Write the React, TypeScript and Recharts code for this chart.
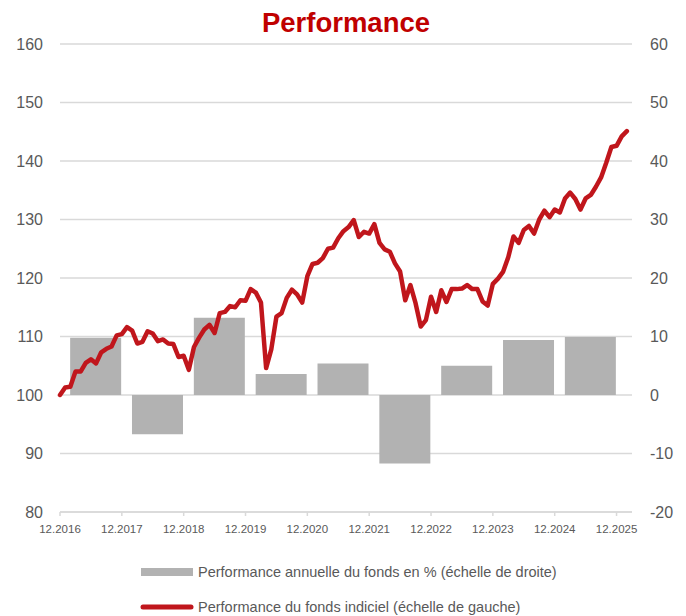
import React from 'react';
import { ComposedChart, Bar, Line, XAxis, YAxis, CartesianGrid } from 'recharts';

// Monthly index level of the index fund, from 12.2016 onward (left scale)
const indexValues = [
  100, 101.3, 101.4, 104, 104, 105.5, 106.1, 105.4, 107.3, 107.9, 108.3, 110.2,
  110.4, 111.6, 111, 108.8, 109.1, 110.9, 110.5, 109.2, 109.5, 108.8, 108.7, 106.5,
  106.7, 104.3, 108.2, 109.8, 111.2, 112, 110.6, 114, 114.2, 115.2, 115, 116.2,
  116.1, 118.1, 117.5, 115.8, 104.6, 107.8, 113.4, 114, 116.6, 118, 117.2, 115.8,
  120.3, 122.4, 122.6, 123.4, 125, 125.2, 126.8, 128, 128.7, 129.9, 127, 127.9,
  127.6, 129.2, 126, 124.9, 124.5, 122.5, 121.1, 116.2, 118.8, 115.7, 111.7, 112.8,
  116.8, 114.2, 117.9, 115.9, 118.1, 118.1, 118.2, 118.8, 118.1, 118.1, 116, 115.3,
  119, 119.9, 121.1, 123.6, 127.1, 126, 128.2, 128.9, 127.6, 130, 131.5, 130.4,
  131.7, 131.2, 133.6, 134.6, 133.5, 131.7, 133.6, 134.2, 135.6, 137.2, 139.7, 142.4,
  142.6, 144.2, 145.1,
];

// Annual fund performance in % (right scale)
const barYears = ['2017', '2018', '2019', '2020', '2021', '2022', '2023', '2024', '2025'];
const annualPerf = [9.8, -6.7, 13.2, 3.6, 5.4, -11.7, 5.0, 9.4, 9.9];

const xTickLabels = ['12.2016', '12.2017', '12.2018', '12.2019', '12.2020', '12.2021', '12.2022', '12.2023', '12.2024', '12.2025'];
const leftTicks = [80, 90, 100, 110, 120, 130, 140, 150, 160];
const rightTicks = [-20, -10, 0, 10, 20, 30, 40, 50, 60];

const title = 'Performance';
const legendBar = 'Performance annuelle du fonds en % (échelle de droite)';
const legendLine = 'Performance du fonds indiciel (échelle de gauche)';

const lineData = indexValues.map((v, m) => ({ m, idx: v }));
const barData = barYears.map((year, i) => ({ year, m: 12 * (i + 1) - 5, perf: annualPerf[i] }));

const xTicks = xTickLabels.map((_, i) => i * 12);

const FONT = '"Liberation Sans", Arial, sans-serif';
const GRID = '#d9d9d9';
const TXT = '#595959';
const RED = '#c0161c';
const GREY = '#b2b2b2';

export default function App() {
  return (
    <div style={{ position: 'absolute', left: 0, top: 0, width: 686, height: 616, background: '#fff', fontFamily: FONT }}>
      <ComposedChart width={686} height={616} data={barData} margin={{ top: 44, right: 0, bottom: 74, left: 0 }}>
        <CartesianGrid xAxisId="line" yAxisId="left" vertical={false} stroke={GRID} strokeWidth={1.5} />
        <XAxis
          xAxisId="line"
          dataKey="m"
          type="number"
          domain={[0, 111]}
          ticks={xTicks}
          interval={0}
          tickFormatter={(v: number) => xTickLabels[v / 12]}
          height={30}
          axisLine={{ stroke: GRID, strokeWidth: 1.5 }}
          tickLine={{ stroke: GRID, strokeWidth: 1.5 }}
          tickSize={4}
          tickMargin={9}
          tick={{ fill: TXT, fontSize: 11.5, fontFamily: FONT }}
        />
        <XAxis
          xAxisId="bar"
          dataKey="m"
          type="number"
          domain={[0, 111]}
          height={0}
          hide
        />
        <YAxis
          yAxisId="left"
          orientation="left"
          width={60}
          domain={[80, 160]}
          ticks={leftTicks}
          interval={0}
          axisLine={false}
          tickLine={false}
          tickSize={0}
          tickMargin={17}
          tick={{ fill: TXT, fontSize: 16, fontFamily: FONT }}
        />
        <YAxis
          yAxisId="right"
          orientation="right"
          width={54}
          domain={[-20, 60]}
          ticks={rightTicks}
          interval={0}
          axisLine={false}
          tickLine={false}
          tickSize={0}
          tickMargin={18}
          tick={{ fill: TXT, fontSize: 16, fontFamily: FONT, textAnchor: 'start' }}
        />
        <Bar xAxisId="bar" yAxisId="right" dataKey="perf" fill={GREY} barSize={51} isAnimationActive={false} />
        <Line
          xAxisId="line"
          yAxisId="left"
          data={lineData}
          dataKey="idx"
          type="linear"
          stroke={RED}
          strokeWidth={4.5}
          strokeLinejoin="round"
          strokeLinecap="round"
          dot={false}
          activeDot={false}
          isAnimationActive={false}
        />
      </ComposedChart>
      <svg width={686} height={616} style={{ position: 'absolute', left: 0, top: 0, pointerEvents: 'none' }}>
        <text x={346} y={32} textAnchor="middle" fill="#c00000" fontSize={27.5} fontWeight="bold" fontFamily={FONT}>{title}</text>
        <rect x={141} y={568} width={52} height={8} fill={GREY} />
        <text x={198} y={577} fill={TXT} fontSize={14.5} fontFamily={FONT}>{legendBar}</text>
        <line x1={143} x2={191} y1={607} y2={607} stroke={RED} strokeWidth={5} strokeLinecap="round" />
        <text x={198} y={612} fill={TXT} fontSize={14.5} fontFamily={FONT}>{legendLine}</text>
      </svg>
    </div>
  );
}
